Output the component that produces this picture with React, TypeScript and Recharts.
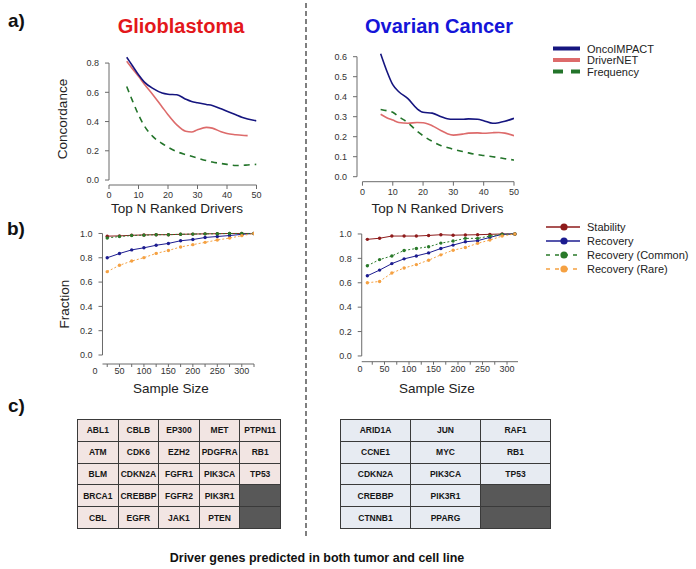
import React from 'react';
import { LineChart, Line, XAxis, YAxis, ReferenceLine } from 'recharts';

const FONT = '"Liberation Sans", Arial, Helvetica, sans-serif';
const AXIS = '#6a6a6a';
const TICKTXT = '#333333';

// ---------- Panel a) concordance vs top N ranked drivers ----------
const topN = [6, 8, 10, 12, 15, 18, 20, 23, 26, 28, 30, 33, 35, 38, 40, 43, 45, 47, 50];
const gbmOncoImpact = [0.84, 0.78, 0.72, 0.67, 0.625, 0.595, 0.587, 0.583, 0.553, 0.537, 0.528, 0.517, 0.51, 0.487, 0.47, 0.447, 0.43, 0.418, 0.405];
const gbmDriverNet = [0.812, 0.76, 0.709, 0.655, 0.58, 0.5, 0.447, 0.377, 0.333, 0.328, 0.344, 0.36, 0.355, 0.33, 0.318, 0.31, 0.306, 0.304, null];
const gbmFrequency = [0.64, 0.54, 0.446, 0.37, 0.295, 0.25, 0.225, 0.194, 0.174, 0.162, 0.15, 0.133, 0.123, 0.113, 0.107, 0.099, 0.1, 0.103, 0.107];
const ovOncoImpact = [0.615, 0.53, 0.46, 0.425, 0.39, 0.34, 0.322, 0.318, 0.3, 0.29, 0.287, 0.287, 0.289, 0.287, 0.28, 0.267, 0.27, 0.277, 0.292];
const ovDriverNet = [0.312, 0.295, 0.283, 0.271, 0.267, 0.271, 0.27, 0.255, 0.23, 0.215, 0.208, 0.213, 0.218, 0.219, 0.217, 0.22, 0.221, 0.218, 0.205];
const ovFrequency = [0.336, 0.33, 0.322, 0.3, 0.27, 0.228, 0.205, 0.177, 0.155, 0.146, 0.137, 0.126, 0.119, 0.11, 0.106, 0.1, 0.095, 0.09, 0.083];

// ---------- Panel b) fraction vs sample size ----------
const gbmSizes = [25, 50, 75, 100, 125, 150, 175, 200, 225, 250, 275, 300, 325];
const gbmStability = [0.978, 0.98, 0.985, 0.988, 0.99, 0.99, 0.993, 0.995, 0.997, 0.998, 1.0, 1.0, 1.0];
const gbmRecovery = [0.8, 0.835, 0.865, 0.882, 0.903, 0.918, 0.94, 0.95, 0.967, 0.975, 0.983, 0.993, 1.0];
const gbmCommon = [0.963, 0.975, 0.983, 0.986, 0.99, 0.99, 0.993, 0.995, 0.997, 0.998, 1.0, 1.0, 1.0];
const gbmRare = [0.686, 0.738, 0.773, 0.801, 0.836, 0.86, 0.889, 0.908, 0.927, 0.946, 0.962, 0.982, 1.0];
const ovSizes = [15, 40, 65, 90, 115, 140, 165, 190, 215, 240, 265, 290, 316];
const ovStability = [0.956, 0.965, 0.983, 0.983, 0.983, 0.988, 0.994, 0.99, 0.992, 0.994, 0.997, 1.0, 1.0];
const ovRecovery = [0.657, 0.704, 0.757, 0.796, 0.82, 0.845, 0.881, 0.909, 0.936, 0.945, 0.972, 0.997, 1.0];
const ovCommon = [0.74, 0.79, 0.82, 0.865, 0.881, 0.895, 0.925, 0.942, 0.964, 0.964, 0.983, 0.997, 1.0];
const ovRare = [0.6, 0.611, 0.68, 0.721, 0.749, 0.785, 0.829, 0.867, 0.889, 0.923, 0.95, 0.983, 1.0];

// ---------- ticks ----------
const xTicksTopN = [0, 10, 20, 30, 40, 50];
const yTicksGbm = [0, 0.2, 0.4, 0.6, 0.8];
const yTicksOv = [0, 0.1, 0.2, 0.3, 0.4, 0.5, 0.6];
const xTicksSample = [0, 25, 50, 75, 100, 125, 150, 175, 200, 225, 250, 275, 300, 325];
const yTicksFraction = [0, 0.2, 0.4, 0.6, 0.8, 1.0];

// ---------- panel c) gene tables ----------
const gbmGenes = [
  ['ABL1', 'CBLB', 'EP300', 'MET', 'PTPN11'],
  ['ATM', 'CDK6', 'EZH2', 'PDGFRA', 'RB1'],
  ['BLM', 'CDKN2A', 'FGFR1', 'PIK3CA', 'TP53'],
  ['BRCA1', 'CREBBP', 'FGFR2', 'PIK3R1', null],
  ['CBL', 'EGFR', 'JAK1', 'PTEN', null],
];
const ovGenes = [
  ['ARID1A', 'JUN', 'RAF1'],
  ['CCNE1', 'MYC', 'RB1'],
  ['CDKN2A', 'PIK3CA', 'TP53'],
  ['CREBBP', 'PIK3R1', null],
  ['CTNNB1', 'PPARG', null],
];

const topLegend = ['OncoIMPACT', 'DriverNET', 'Frequency'];
const midLegend = ['Stability', 'Recovery', 'Recovery (Common)', 'Recovery (Rare)'];

const C_ONCO = '#15157f';
const C_DNET = '#dd6b6b';
const C_FREQ = '#23742a';
const C_STAB = '#8e1b1b';
const C_REC = '#1c1c90';
const C_COM = '#2a7a2a';
const C_RARE = '#f5a142';

const topData = (a: (number | null)[], b: (number | null)[], c: (number | null)[]) =>
  topN.map((n, i) => ({ x: n, onco: a[i], dnet: b[i], freq: c[i] }));
const midData = (sizes: number[], s: number[], r: number[], c: number[], q: number[]) =>
  sizes.map((n, i) => ({ x: n, stab: s[i], rec: r[i], com: c[i], rare: q[i] }));

const PAD_L = 50, PAD_T = 10, PAD_R = 14, PAD_B = 30;
const Y_TICK_SIZE = 4, Y_TICK_MARGIN = 6;

type Box = { left: number; top: number; right: number; bottom: number };

function makeXTick(minX: number, labelStep: number, tickSize: number, tickMargin: number) {
  return (props: any) => {
    const { x, y, payload } = props;
    const v = payload.value;
    const showLine = v >= minX - 1e-6;
    const showLabel = Math.abs(v % labelStep) < 1e-6;
    return (
      <g>
        {showLine && (
          <line x1={x} x2={x} y1={y - tickSize - tickMargin} y2={y - tickMargin} stroke={AXIS} strokeWidth={1} />
        )}
        {showLabel && (
          <text x={x} y={y} dy="0.71em" textAnchor="middle" fontSize={9} fill={TICKTXT} fontFamily={FONT}>
            {v}
          </text>
        )}
      </g>
    );
  };
}

function makeYTick(offsetPx: number) {
  return (props: any) => {
    const { x, y, payload } = props;
    const v = payload.value as number;
    const axisX = x + Y_TICK_SIZE + Y_TICK_MARGIN + offsetPx;
    return (
      <g>
        <line x1={axisX - Y_TICK_SIZE} x2={axisX} y1={y} y2={y} stroke={AXIS} strokeWidth={1} />
        <text x={x + offsetPx} y={y} dy="0.355em" textAnchor="end" fontSize={9} fill={TICKTXT} fontFamily={FONT}>
          {v.toFixed(1)}
        </text>
      </g>
    );
  };
}

function Frame(props: {
  box: Box;
  data: any[];
  xDomain: [number, number];
  yDomain: [number, number];
  xTicks: number[];
  yTicks: number[];
  yLineX: number;
  yLineTop: number;
  xLineFrom: number;
  xLineTo: number;
  labelStep: number;
  xTickSize: number;
  xTickMargin: number;
  children: React.ReactNode;
}) {
  const { box, data, xDomain, yDomain, xTicks, yTicks, yLineX, yLineTop, xLineFrom, xLineTo, labelStep, xTickSize, xTickMargin, children } = props;
  const plotW = box.right - box.left;
  const w = plotW + PAD_L + PAD_R;
  const h = box.bottom - box.top + PAD_T + PAD_B;
  const offsetPx = ((yLineX - xDomain[0]) / (xDomain[1] - xDomain[0])) * plotW;
  return (
    <div style={{ position: 'absolute', left: box.left - PAD_L, top: box.top - PAD_T, width: w, height: h }}>
      <LineChart width={w} height={h} data={data} margin={{ top: PAD_T, right: PAD_R, left: 0, bottom: 0 }}>
        <XAxis
          type="number"
          dataKey="x"
          domain={xDomain}
          allowDataOverflow
          ticks={xTicks}
          interval={0}
          height={PAD_B}
          axisLine={false}
          tickLine={false}
          tickSize={xTickSize}
          tickMargin={xTickMargin}
          tick={makeXTick(xLineFrom, labelStep, xTickSize, xTickMargin)}
        />
        <YAxis
          type="number"
          domain={yDomain}
          allowDataOverflow
          ticks={yTicks}
          interval={0}
          width={PAD_L}
          axisLine={false}
          tickLine={false}
          tickSize={Y_TICK_SIZE}
          tickMargin={Y_TICK_MARGIN}
          tick={makeYTick(offsetPx)}
        />
        <ReferenceLine segment={[{ x: yLineX, y: 0 }, { x: yLineX, y: yLineTop }]} stroke={AXIS} strokeWidth={1} ifOverflow="visible" />
        <ReferenceLine segment={[{ x: xLineFrom, y: yDomain[0] }, { x: xLineTo, y: yDomain[0] }]} stroke={AXIS} strokeWidth={1} ifOverflow="visible" />
        {children}
      </LineChart>
    </div>
  );
}

function topLines() {
  return [
    <Line key="f" type="monotone" dataKey="freq" stroke={C_FREQ} strokeWidth={1.6} strokeDasharray="6 5" dot={false} isAnimationActive={false} />,
    <Line key="d" type="monotone" dataKey="dnet" stroke={C_DNET} strokeWidth={1.6} dot={false} isAnimationActive={false} />,
    <Line key="o" type="monotone" dataKey="onco" stroke={C_ONCO} strokeWidth={1.6} dot={false} isAnimationActive={false} />,
  ];
}

function midLines() {
  const dot = (c: string) => ({ r: 1.7, fill: c, stroke: c, strokeWidth: 0 });
  return [
    <Line key="s" type="linear" dataKey="stab" stroke={C_STAB} strokeWidth={1} dot={dot(C_STAB)} isAnimationActive={false} />,
    <Line key="r" type="linear" dataKey="rec" stroke={C_REC} strokeWidth={1} dot={dot(C_REC)} isAnimationActive={false} />,
    <Line key="c" type="linear" dataKey="com" stroke={C_COM} strokeWidth={1} strokeDasharray="2 2" dot={dot(C_COM)} isAnimationActive={false} />,
    <Line key="q" type="linear" dataKey="rare" stroke={C_RARE} strokeWidth={1} strokeDasharray="2 2" dot={dot(C_RARE)} isAnimationActive={false} />,
  ];
}

function GeneTable(props: { rows: (string | null)[][]; left: number; top: number; width: number; height: number; fill: string }) {
  const { rows, left, top, width, height, fill } = props;
  return (
    <table
      style={{
        position: 'absolute',
        left,
        top,
        width,
        height,
        borderCollapse: 'collapse',
        tableLayout: 'fixed',
        fontFamily: FONT,
        fontSize: 8.5,
        fontWeight: 'bold',
        color: '#161616',
      }}
    >
      <tbody>
        {rows.map((r, i) => (
          <tr key={i}>
            {r.map((g, j) => (
              <td
                key={j}
                style={{
                  border: '1.5px solid #3a3a3a',
                  background: g ? fill : '#585858',
                  textAlign: 'center',
                  padding: 0,
                  height: height / rows.length - 2,
                  whiteSpace: 'nowrap',
                  overflow: 'hidden',
                }}
              >
                {g}
              </td>
            ))}
          </tr>
        ))}
      </tbody>
    </table>
  );
}

export default function App() {
  const txt = { fontFamily: FONT };
  const topColors = [C_ONCO, C_DNET, C_FREQ];
  const topY = [48.5, 60, 71.5];
  const midColors = [C_STAB, C_REC, C_COM, C_RARE];
  const midY = [227, 241, 255, 269];
  return (
    <div style={{ position: 'absolute', left: 0, top: 0, width: 696, height: 569, background: '#fff', overflow: 'hidden' }}>
      <svg width={696} height={569} style={{ position: 'absolute', left: 0, top: 0 }}>
        <line x1={306} x2={306} y1={3} y2={536} stroke="#555" strokeWidth={1.5} strokeDasharray="5 3" />
        <text x={8} y={27} fontSize={19} fontWeight="bold" fill="#111" {...txt}>a)</text>
        <text x={7} y={235} fontSize={19} fontWeight="bold" fill="#111" {...txt}>b)</text>
        <text x={8} y={412} fontSize={19} fontWeight="bold" fill="#111" {...txt}>c)</text>
        <text x={181} y={33} fontSize={20} fontWeight="bold" fill="#e3171b" textAnchor="middle" {...txt}>Glioblastoma</text>
        <text x={439} y={33} fontSize={20} fontWeight="bold" fill="#1515d8" textAnchor="middle" {...txt}>Ovarian Cancer</text>
        <text x={0} y={0} fontSize={13.5} fill="#222" textAnchor="middle" transform="translate(67,119) rotate(-90)" {...txt}>Concordance</text>
        <text x={0} y={0} fontSize={13.5} fill="#222" textAnchor="middle" transform="translate(69,304) rotate(-90)" {...txt}>Fraction</text>
        <text x={177} y={213} fontSize={13.5} fill="#222" textAnchor="middle" {...txt}>Top N Ranked Drivers</text>
        <text x={437.5} y={213} fontSize={13.5} fill="#222" textAnchor="middle" {...txt}>Top N Ranked Drivers</text>
        <text x={171} y={393} fontSize={13.5} fill="#222" textAnchor="middle" {...txt}>Sample Size</text>
        <text x={437} y={393} fontSize={13.5} fill="#222" textAnchor="middle" {...txt}>Sample Size</text>
        <text x={317} y={562} fontSize={12.5} fontWeight="bold" fill="#111" textAnchor="middle" {...txt}>Driver genes predicted in both tumor and cell line</text>
        {topLegend.map((l, i) => (
          <g key={l}>
            <line x1={553} x2={580} y1={topY[i]} y2={topY[i]} stroke={topColors[i]} strokeWidth={4} strokeDasharray={i === 2 ? '10 8' : undefined} />
            <text x={587} y={topY[i] + 4} fontSize={11} fill="#222" {...txt}>{l}</text>
          </g>
        ))}
        {midLegend.map((l, i) => (
          <g key={l}>
            <line x1={546} x2={580} y1={midY[i]} y2={midY[i]} stroke={midColors[i]} strokeWidth={1.5} strokeDasharray={i >= 2 ? '4 5' : undefined} />
            <circle cx={564} cy={midY[i]} r={3.6} fill={midColors[i]} />
            <text x={587} y={midY[i] + 4} fontSize={11} fill="#222" {...txt}>{l}</text>
          </g>
        ))}
      </svg>

      <Frame
        box={{ left: 108.5, top: 54, right: 256, bottom: 185 }}
        data={topData(gbmOncoImpact, gbmDriverNet, gbmFrequency)}
        xDomain={[0, 50]}
        yDomain={[-0.034, 0.862]}
        xTicks={xTicksTopN}
        yTicks={yTicksGbm}
        yLineX={0}
        yLineTop={0.8}
        xLineFrom={0}
        xLineTo={50}
        labelStep={10}
        xTickSize={4}
        xTickMargin={3}
      >
        {topLines()}
      </Frame>

      <Frame
        box={{ left: 357, top: 50, right: 514, bottom: 181.7 }}
        data={topData(ovOncoImpact, ovDriverNet, ovFrequency)}
        xDomain={[-1.8, 50]}
        yDomain={[-0.025, 0.6335]}
        xTicks={xTicksTopN}
        yTicks={yTicksOv}
        yLineX={-1.8}
        yLineTop={0.6}
        xLineFrom={0}
        xLineTo={50}
        labelStep={10}
        xTickSize={4}
        xTickMargin={3}
      >
        {topLines()}
      </Frame>

      <Frame
        box={{ left: 95, top: 228, right: 254, bottom: 364 }}
        data={midData(gbmSizes, gbmStability, gbmRecovery, gbmCommon, gbmRare)}
        xDomain={[0, 325]}
        yDomain={[-0.074, 1.045]}
        xTicks={xTicksSample}
        yTicks={yTicksFraction}
        yLineX={15.3}
        yLineTop={1.0}
        xLineFrom={15.3}
        xLineTo={325}
        labelStep={50}
        xTickSize={3}
        xTickMargin={0.5}
      >
        {midLines()}
      </Frame>

      <Frame
        box={{ left: 360, top: 228, right: 518, bottom: 361.7 }}
        data={midData(ovSizes, ovStability, ovRecovery, ovCommon, ovRare)}
        xDomain={[0, 322.4]}
        yDomain={[-0.047, 1.049]}
        xTicks={xTicksSample.slice(0, 13)}
        yTicks={yTicksFraction}
        yLineX={3.5}
        yLineTop={1.0}
        xLineFrom={3.5}
        xLineTo={322.4}
        labelStep={50}
        xTickSize={3}
        xTickMargin={0.5}
      >
        {midLines()}
      </Frame>

      <GeneTable rows={gbmGenes} left={77} top={419} width={204} height={110} fill="#f2e5e3" />
      <GeneTable rows={ovGenes} left={340} top={419} width={211} height={110} fill="#e7ebf2" />
    </div>
  );
}
